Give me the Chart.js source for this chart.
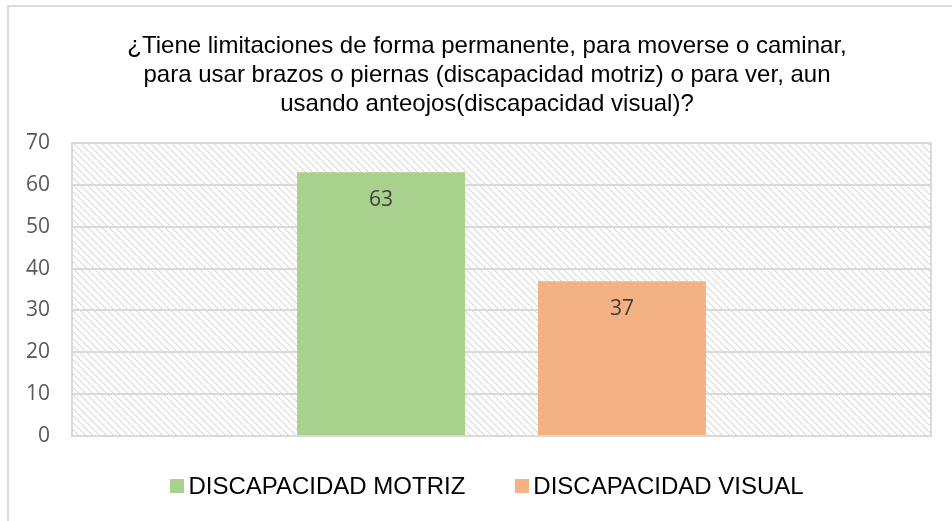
<!DOCTYPE html>
<html lang="es">
<head>
<meta charset="UTF-8">
<title>Discapacidad</title>
<script src="https://cdn.jsdelivr.net/npm/chart.js"></script>
<style>
  html, body { margin: 0; padding: 0; background: #fff; overflow: hidden; }
  .wrap { position: relative; width: 952px; height: 521px; }
  .frame { position: absolute; left: 7px; top: 5px; width: 2000px; height: 2000px;
           border-left: 2px solid #dcdcdc; border-top: 2px solid #dcdcdc; pointer-events: none; }
  #title { position: absolute; left: 22px; width: 930px; top: 30px; text-align: center;
           font-family: "Liberation Sans", Arial, sans-serif; font-size: 24px; line-height: 29px; color: #000; }
  #legend { position: absolute; left: 22px; width: 930px; top: 472px; text-align: center;
            font-family: "Liberation Sans", Arial, sans-serif; font-size: 24px; color: #000; }
  #legend span.item { display: inline-block; margin: 0 25px; }
  #legend span.box { display: inline-block; width: 14px; height: 14px; margin-right: 4px; vertical-align: 1px; }
</style>
</head>
<body>
<div class="wrap">
  <canvas id="myChart" width="952" height="521"></canvas>
  <div class="frame"></div>
  <div id="title"></div>
  <div id="legend"></div>
</div>
<script>
  // datos
  const categories = ['DISCAPACIDAD MOTRIZ', 'DISCAPACIDAD VISUAL'];
  const values = [63, 37];
  const colors = ['#a9d18e', '#f4b183'];
  const titleLines = [
    '¿Tiene limitaciones de forma permanente, para moverse o caminar,',
    'para usar brazos o piernas (discapacidad motriz) o para ver, aun',
    'usando anteojos(discapacidad visual)?'
  ];
  const yMax = 70;
  const yStep = 10;

  // trama diagonal del fondo del area de trazado
  function makeHatch() {
    const c = document.createElement('canvas');
    c.width = 7; c.height = 7;
    const g = c.getContext('2d');
    g.fillStyle = '#fff';
    g.fillRect(0, 0, 7, 7);
    for (let i = 0; i < 7; i++) {
      g.fillStyle = '#d9d9d9';
      g.fillRect(i, i, 1, 1);
      g.fillStyle = '#efefef';
      g.fillRect((i + 1) % 7, i, 1, 1);
    }
    return g.createPattern(c, 'repeat');
  }

  const plotBg = {
    id: 'plotBg',
    beforeDraw(chart) {
      const a = chart.chartArea, ctx = chart.ctx;
      ctx.save();
      ctx.fillStyle = makeHatch();
      ctx.fillRect(a.left, a.top, a.right - a.left, a.bottom - a.top);
      ctx.restore();
    },
    afterDraw(chart) {
      const a = chart.chartArea, ctx = chart.ctx;
      ctx.save();
      ctx.strokeStyle = '#d9d9d9';
      ctx.lineWidth = 2;
      ctx.strokeRect(a.left, a.top, a.right - a.left, a.bottom - a.top);
      ctx.restore();
    }
  };

  // etiquetas de valor dentro de las barras
  const valueLabels = {
    id: 'valueLabels',
    afterDatasetsDraw(chart) {
      const ctx = chart.ctx;
      ctx.save();
      ctx.font = '21px "Open Sans"';
      ctx.fillStyle = '#404040';
      ctx.textAlign = 'center';
      ctx.textBaseline = 'middle';
      chart.data.datasets.forEach((ds, i) => {
        chart.getDatasetMeta(i).data.forEach((bar, j) => {
          ctx.fillText(ds.data[j], bar.x, bar.y + 28);
        });
      });
      ctx.restore();
    }
  };

  const data = {
    labels: [''],
    datasets: categories.map((c, i) => ({
      label: c,
      data: [values[i]],
      backgroundColor: colors[i],
      categoryPercentage: 0.561,
      barPercentage: 0.697
    }))
  };

  const config = {
    type: 'bar',
    data: data,
    options: {
      responsive: false,
      animation: false,
      layout: { padding: { left: 0, right: 21, top: 143, bottom: 85 } },
      plugins: {
        legend: { display: false },
        tooltip: { enabled: false },
        title: { display: false }
      },
      scales: {
        x: {
          ticks: { display: false },
          grid: { display: false, drawTicks: false },
          border: { display: false }
        },
        y: {
          min: 0,
          max: yMax,
          ticks: {
            stepSize: yStep,
            padding: 22,
            color: '#595959',
            font: { family: '"Open Sans"', size: 21 }
          },
          grid: { color: '#d9d9d9', lineWidth: 2, drawTicks: false },
          border: { display: false },
          afterFit(scale) { scale.width = 72; }
        }
      }
    },
    plugins: [plotBg, valueLabels]
  };

  const myChart = new Chart(document.getElementById('myChart'), config);

  // titulo y leyenda en HTML
  document.getElementById('title').innerHTML = titleLines.join('<br>');
  const legend = document.getElementById('legend');
  categories.forEach((c, i) => {
    const item = document.createElement('span');
    item.className = 'item';
    item.innerHTML = '<span class="box" style="background:' + colors[i] + '"></span>' + c;
    legend.appendChild(item);
  });
</script>
</body>
</html>
